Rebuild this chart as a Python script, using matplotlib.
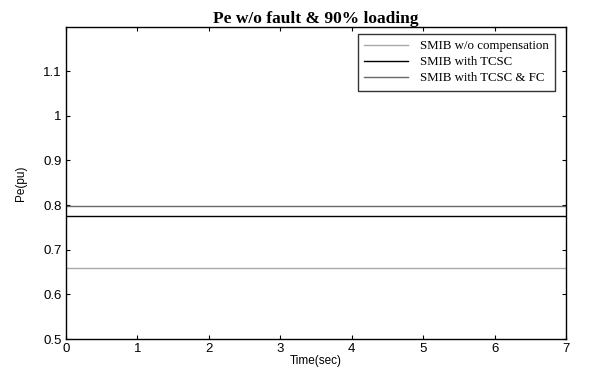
import matplotlib
matplotlib.use("Agg")
import matplotlib.pyplot as plt
import numpy as np

time_sec = [0, 7]
pe_wo_comp = [0.659, 0.659]
pe_tcsc = [0.776, 0.776]
pe_tcsc_fc = [0.797, 0.797]
series_labels = ["SMIB w/o compensation", "SMIB with TCSC", "SMIB with TCSC & FC"]
x_ticks = [0, 1, 2, 3, 4, 5, 6, 7]
y_ticks = [0.5, 0.6, 0.7, 0.8, 0.9, 1.0, 1.1]
y_tick_labels = ["0.5", "0.6", "0.7", "0.8", "0.9", "1", "1.1"]

fig = plt.figure(figsize=(6.16, 3.78), dpi=100)
ax = fig.add_axes([66/616, 1-339/378, 500/616, 312/378])

ax.plot(time_sec, pe_wo_comp, color="#a8a8a8", lw=1.0, label=series_labels[0])
ax.plot(time_sec, pe_tcsc, color="black", lw=1.0, label=series_labels[1])
ax.plot(time_sec, pe_tcsc_fc, color="#6a6a6a", lw=1.0, label=series_labels[2])

ax.set_xlim(0, 7)
ax.set_ylim(0.5, 1.199)
ax.set_xticks(x_ticks)
ax.set_xticklabels([str(t) for t in x_ticks], fontfamily="Liberation Sans", fontsize=9.5)
ax.set_yticks(y_ticks)
ax.set_yticklabels(y_tick_labels, fontfamily="Liberation Sans", fontsize=9.5)
ax.tick_params(direction="in", top=True, right=True, length=3, width=0.8, pad=3)
for s in ax.spines.values():
    s.set_linewidth(1.0)
    s.set_color("black")

ax.set_xlabel("Time(sec)", fontfamily="Liberation Sans", fontsize=8.5, labelpad=0)
ax.set_ylabel("Pe(pu)", fontfamily="Liberation Sans", fontsize=8.5, labelpad=12)
ax.set_title("Pe w/o fault & 90% loading", fontfamily="Liberation Serif",
             fontweight="bold", fontsize=12.5, pad=3)

leg = ax.legend(loc="upper right", bbox_to_anchor=(555/616, 1-34/378),
                bbox_transform=fig.transFigure,
                prop={"family": "Liberation Serif", "size": 9.3},
                frameon=True, fancybox=False, borderaxespad=0,
                handlelength=3.4, handletextpad=0.9, labelspacing=0.3,
                borderpad=0.5)
leg.get_frame().set_edgecolor("black")
leg.get_frame().set_linewidth(1.0)

fig.savefig("out.png", dpi=100)
